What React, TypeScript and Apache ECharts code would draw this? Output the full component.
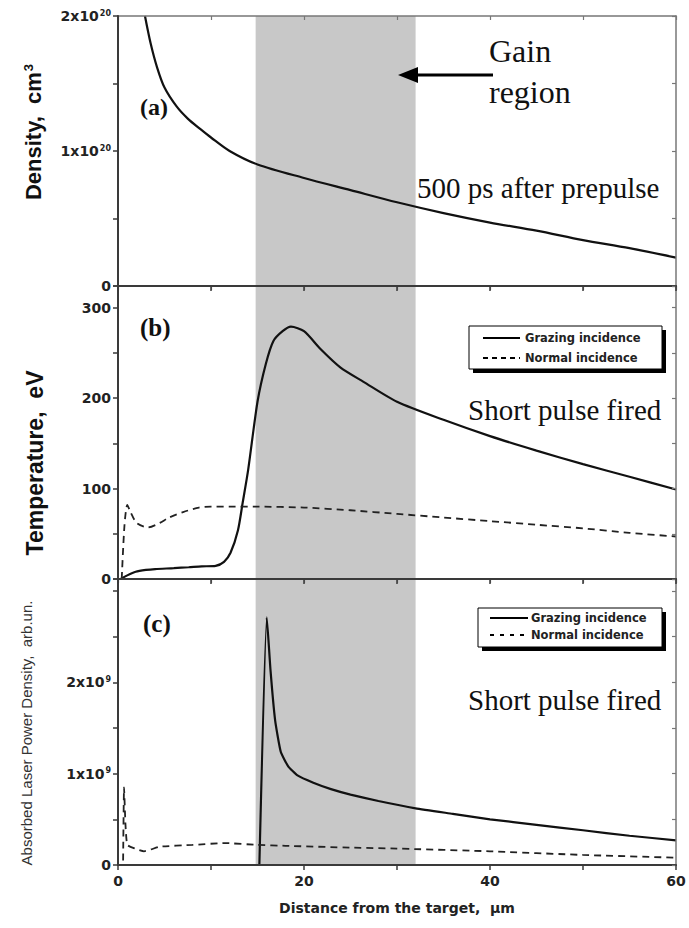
import React, { useEffect, useRef } from 'react';
import * as echarts from 'echarts';

const SANS = '"Liberation Sans", Arial, sans-serif';
const WIDE = '"DejaVu Sans", Verdana, sans-serif';
const SERIF = '"Liberation Serif", "Times New Roman", serif';

// ---------- Data ----------
// distance from target, µm
const xTickLabels = [0, 20, 40, 60];
const gainRegion = [14.8, 32];

// (a) density, in units of 1e20 cm^-3
const densityX = [2.9, 3.5, 4.2, 5, 6.3, 7.5, 8.9, 10, 12, 15, 20, 25, 30, 35, 40, 45, 50, 55, 60];
const densityE20 = [2.0, 1.8, 1.62, 1.47, 1.33, 1.24, 1.16, 1.1, 1.0, 0.9, 0.8, 0.71, 0.62, 0.54, 0.47, 0.41, 0.34, 0.28, 0.21];
const densityTicks = [0, 1, 2];

// (b) temperature, eV
const tempGrazX = [0.3, 1.0, 1.9, 3, 4, 6, 7.6, 9, 10.5, 11.4, 12.1, 12.9, 13.4, 14, 15, 15.9, 16.7, 17.7, 18.6, 20, 21.8, 23.9, 26.4, 30, 35, 40, 45, 50, 55, 60];
const tempGraz = [0, 4, 8, 10, 11, 12, 13, 14, 14.6, 19, 29, 54, 84, 121, 196, 238, 263, 274, 279, 274, 254, 234, 218, 196, 176, 158, 142, 127, 113, 99];
const tempNormX = [0.4, 0.7, 1.0, 1.3, 2.0, 3.2, 4.5, 5.5, 7, 8.7, 10, 12, 15, 20, 25, 30, 35, 40, 45, 50, 55, 60];
const tempNorm = [0, 60, 82, 75, 62, 57, 62, 68, 74, 79, 80, 80, 80, 79, 76, 72, 68, 64, 60, 56, 51, 47];
const tempTicks = [0, 100, 200, 300];

// (c) absorbed laser power density, in units of 1e9 arb.un.
const powGrazX = [15.2, 16.0, 16.4, 16.9, 17.5, 18.3, 19.3, 21, 22.9, 25, 28, 32, 36, 40, 45, 50, 55, 60];
const powGrazE9 = [0, 2.71, 2.13, 1.58, 1.24, 1.08, 0.98, 0.9, 0.83, 0.77, 0.7, 0.62, 0.56, 0.5, 0.44, 0.38, 0.32, 0.27];
const powNormX = [0.55, 0.65, 0.8, 1.0, 1.8, 2.8, 4.5, 8, 11.5, 15, 18, 25, 30, 40, 50, 60];
const powNormE9 = [0.05, 0.85, 0.45, 0.22, 0.18, 0.15, 0.2, 0.22, 0.24, 0.22, 0.21, 0.19, 0.18, 0.15, 0.11, 0.08];
const powTicks = [0, 1, 2];

const pairs = (xs: number[], ys: number[]) => xs.map((x, i) => [x, ys[i]]);

// ---------- Layout ----------
const LEFT = 118;
const RIGHT = 13;
const grids = [
  { left: LEFT, right: RIGHT, top: 16, height: 270 },
  { left: LEFT, right: RIGHT, top: 286, height: 293 },
  { left: LEFT, right: RIGHT, top: 579, height: 286 },
];
const yRanges = [
  { max: 2, interval: 0.5 },
  { max: 324, interval: 50 },
  { max: 3.13, interval: 0.5 },
];

const AXIS_COLOR = '#3a3a3a';
const BORDER_COLOR = '#777';
const LINE_COLOR = '#111';

const supRich = {
  m: { fontFamily: WIDE, fontWeight: 'bold', fontSize: 14, color: '#222' },
  s: { fontFamily: WIDE, fontWeight: 'bold', fontSize: 8, color: '#222', verticalAlign: 'top', padding: [0, 0, 6, 1] },
};

function yFormatter(panel: number) {
  return (v: number) => {
    if (panel === 0) {
      if (!densityTicks.includes(v)) return '';
      return v === 0 ? '{m|0}' : `{m|${v}x10}{s|20}`;
    }
    if (panel === 1) {
      return tempTicks.includes(v) ? `{m|${v}}` : '';
    }
    if (!powTicks.includes(v)) return '';
    return v === 0 ? '{m|0}' : `{m|${v}x10}{s|9}`;
  };
}

export default function App() {
  const ref = useRef<HTMLDivElement>(null);

  useEffect(() => {
    if (!ref.current) return;
    const chart = echarts.init(ref.current, undefined, { renderer: 'svg' });

    const xAxes: any[] = [];
    const yAxes: any[] = [];
    for (let i = 0; i < 3; i++) {
      xAxes.push({
        type: 'value', gridIndex: i, min: 0, max: 60, interval: 10, position: 'bottom', z: 5,
        axisLine: { show: true, onZero: false, lineStyle: { color: AXIS_COLOR, width: 2 } },
        axisTick: { show: true, inside: false, length: 5, lineStyle: { color: AXIS_COLOR, width: 1.5 } },
        axisLabel: {
          show: i === 2, margin: 9, fontFamily: WIDE, fontWeight: 'bold', fontSize: 14, color: '#222',
          formatter: (v: number) => (xTickLabels.includes(v) ? String(v) : ''),
        },
        splitLine: { show: false },
      });
    }
    for (let i = 0; i < 3; i++) {
      xAxes.push({
        type: 'value', gridIndex: i, min: 0, max: 60, interval: 10, position: 'top', z: 4,
        axisLine: { show: true, onZero: false, lineStyle: { color: i === 0 ? BORDER_COLOR : AXIS_COLOR, width: i === 0 ? 1.5 : 2 } },
        axisTick: { show: true, inside: true, length: 4, lineStyle: { color: BORDER_COLOR, width: 1.2 } },
        axisLabel: { show: false },
        splitLine: { show: false },
      });
    }
    for (let i = 0; i < 3; i++) {
      yAxes.push({
        type: 'value', gridIndex: i, min: 0, max: yRanges[i].max, interval: yRanges[i].interval, position: 'left', z: 5,
        axisLine: { show: true, onZero: false, lineStyle: { color: AXIS_COLOR, width: 2 } },
        axisTick: { show: true, inside: false, length: 5, lineStyle: { color: AXIS_COLOR, width: 1.5 } },
        axisLabel: { show: true, margin: 7, formatter: yFormatter(i), rich: supRich },
        splitLine: { show: false },
      });
    }
    for (let i = 0; i < 3; i++) {
      yAxes.push({
        type: 'value', gridIndex: i, min: 0, max: yRanges[i].max, interval: yRanges[i].interval, position: 'right', z: 5,
        axisLine: { show: true, onZero: false, lineStyle: { color: BORDER_COLOR, width: 1.5 } },
        axisTick: { show: true, inside: true, length: 4, lineStyle: { color: BORDER_COLOR, width: 1.2 } },
        axisLabel: { show: false },
        splitLine: { show: false },
      });
    }

    const shade = {
      silent: true,
      itemStyle: { color: '#c8c8c8' },
      data: [[{ xAxis: gainRegion[0] }, { xAxis: gainRegion[1] }]],
    };
    const solid = { color: LINE_COLOR, width: 2.2 };
    const dashed = { color: '#222', width: 1.8, type: [7, 5] };

    const series: any[] = [
      { name: 'Density', type: 'line', xAxisIndex: 0, yAxisIndex: 0, data: pairs(densityX, densityE20), symbol: 'none', smooth: 0.3, lineStyle: solid, markArea: shade, z: 2 },
      { name: 'Grazing incidence', type: 'line', xAxisIndex: 1, yAxisIndex: 1, data: pairs(tempGrazX, tempGraz), symbol: 'none', smooth: 0.25, lineStyle: solid, markArea: shade, z: 3 },
      { name: 'Normal incidence', type: 'line', xAxisIndex: 1, yAxisIndex: 1, data: pairs(tempNormX, tempNorm), symbol: 'none', smooth: 0.25, lineStyle: dashed, z: 3 },
      { name: 'Grazing incidence', type: 'line', xAxisIndex: 2, yAxisIndex: 2, data: pairs(powGrazX, powGrazE9), symbol: 'none', smooth: 0.15, lineStyle: solid, markArea: shade, z: 3 },
      { name: 'Normal incidence', type: 'line', xAxisIndex: 2, yAxisIndex: 2, data: pairs(powNormX, powNormE9), symbol: 'none', smooth: 0.15, lineStyle: dashed, z: 3 },
    ];

    const serifText = (text: string, x: number, y: number, size: number, weight = 'normal') => ({
      type: 'text', x, y, z: 20,
      style: { text, fontFamily: SERIF, fontSize: size, fontWeight: weight, fill: '#111', align: 'left', verticalAlign: 'middle' },
    });

    const legend = (x: number, y: number, w: number, h: number, y1: number, y2: number, sx1: number, sx2: number, tx: number, dash: number[]) => [
      { type: 'rect', z: 20, shape: { x: x + 4, y: y + 4, width: w, height: h }, style: { fill: '#000' } },
      { type: 'rect', z: 21, shape: { x, y, width: w, height: h }, style: { fill: '#fff', stroke: '#000', lineWidth: 1 } },
      { type: 'line', z: 22, shape: { x1: sx1, y1, x2: sx2, y2: y1 }, style: { stroke: '#000', lineWidth: 2 } },
      { type: 'line', z: 22, shape: { x1: sx1, y1: y2, x2: sx2, y2 }, style: { stroke: '#000', lineWidth: 2, lineDash: dash } },
      { type: 'text', z: 22, x: tx, y: y1, style: { text: 'Grazing incidence', fontFamily: WIDE, fontWeight: 'bold', fontSize: 11.5, fill: '#222', align: 'left', verticalAlign: 'middle' } },
      { type: 'text', z: 22, x: tx, y: y2, style: { text: 'Normal incidence', fontFamily: WIDE, fontWeight: 'bold', fontSize: 11.5, fill: '#222', align: 'left', verticalAlign: 'middle' } },
    ];

    const graphic: any[] = [
      serifText('(a)', 140, 107, 24, 'bold'),
      serifText('(b)', 140, 327, 25, 'bold'),
      serifText('(c)', 143, 623, 25, 'bold'),
      serifText('Gain', 489, 51, 32),
      serifText('region', 489, 92, 32),
      { type: 'line', z: 20, shape: { x1: 414, y1: 75, x2: 493, y2: 75 }, style: { stroke: '#000', lineWidth: 3 } },
      { type: 'polygon', z: 20, shape: { points: [[398, 75], [418, 67], [418, 83]] }, style: { fill: '#000' } },
      serifText('500 ps after prepulse', 417, 188, 29),
      serifText('Short pulse fired', 468, 410, 29),
      serifText('Short pulse fired', 468, 700, 29),
      ...legend(469, 326, 193, 43, 338, 358, 483, 520, 525, [5, 4]),
      ...legend(478, 608, 184, 39, 618, 635, 490, 528, 531, [4, 6]),
      {
        type: 'text', z: 20, x: 33, y: 132, rotation: Math.PI / 2,
        style: {
          text: '{t|Density,  cm}{s|3}', align: 'center', verticalAlign: 'middle',
          rich: {
            t: { fontFamily: SANS, fontWeight: 'bold', fontSize: 22, fill: '#111' },
            s: { fontFamily: SANS, fontWeight: 'bold', fontSize: 13, fill: '#111', verticalAlign: 'top', padding: [0, 0, 10, 1] },
          },
        },
      },
      {
        type: 'text', z: 20, x: 35, y: 463, rotation: Math.PI / 2,
        style: { text: 'Temperature,  eV', fontFamily: SANS, fontWeight: 'bold', fontSize: 23, fill: '#111', align: 'center', verticalAlign: 'middle' },
      },
      {
        type: 'text', z: 20, x: 26, y: 733, rotation: Math.PI / 2,
        style: { text: 'Absorbed Laser Power Density,  arb.un.', fontFamily: SANS, fontWeight: 'normal', fontSize: 15, fill: '#333', align: 'center', verticalAlign: 'middle' },
      },
      {
        type: 'text', z: 20, x: 397, y: 908,
        style: { text: 'Distance from the target,  µm', fontFamily: WIDE, fontWeight: 'bold', fontSize: 14, fill: '#222', align: 'center', verticalAlign: 'middle' },
      },
    ];

    chart.setOption({
      animation: false,
      backgroundColor: '#fff',
      grid: grids,
      xAxis: xAxes,
      yAxis: yAxes,
      series,
      graphic,
    });

    return () => chart.dispose();
  }, []);

  return <div ref={ref} style={{ width: 689, height: 928, position: 'absolute', left: 0, top: 0 }} />;
}
